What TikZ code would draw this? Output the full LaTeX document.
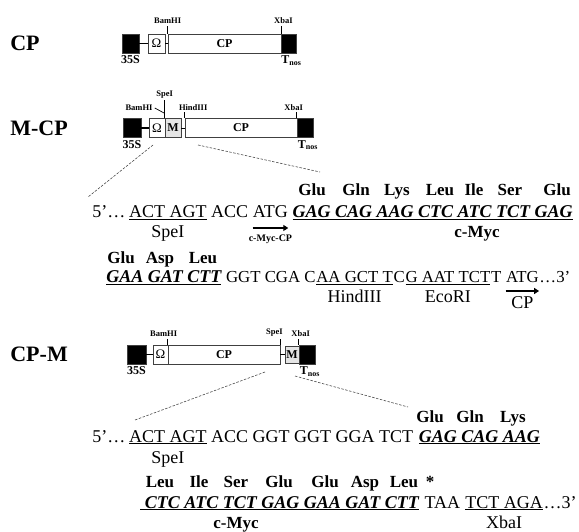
\documentclass[tikz,border=0pt]{standalone}
\usepackage{fontspec}
\setmainfont{Liberation Serif}
\usetikzlibrary{arrows.meta}
\newcommand\seqf{\fontsize{18}{20}\selectfont}
\newcommand\seqn{\fontsize{16.8}{19}\selectfont}
\newcommand\resf{\fontsize{17}{19}\selectfont\bfseries}
\newcommand\tagf{\fontsize{8.5}{10}\selectfont\bfseries}
\newcommand\boxf{\fontsize{12}{14}\selectfont\bfseries}
\newcommand\omf{\fontsize{13}{15}\selectfont}
\newcommand\bigf{\fontsize{22}{24}\selectfont\bfseries}

\begin{document}
\begin{tikzpicture}[x=1pt,y=-1pt,line width=.7pt,
    blk/.style={draw=black!75,fill=black,inner sep=0,minimum height=19},
    elem/.style={draw=black!75,fill=white,inner sep=0,minimum height=19,font=\boxf},
    mel/.style={elem,fill=gray!20},
    cname/.style={anchor=west,inner sep=0,font=\bigf},
    site/.style={font=\tagf,inner sep=0,above=1.5pt},
    under/.style={font=\boxf,inner sep=0,below=2pt},
    seq/.style={anchor=base west,inner sep=0,font=\seqf},
    cod/.style={seq,font=\seqf\bfseries\itshape},
    lab/.style={anchor=base,inner sep=0,font=\seqf},
    res/.style={anchor=base,inner sep=0,font=\resf},
    zoomln/.style={black!70,line width=.6pt,dash pattern=on 2.5pt off 1.5pt},
    arr/.style={line width=1.6pt,-{Triangle[length=5pt,width=6pt]}}]
  \useasboundingbox (0,0) rectangle (579,532);
  % CP
  \begin{scope}[shift={(0,43.5)}]
    \node[cname] (ncp) at (10,0) {CP};
    \node[blk,minimum width=17] (p35a) at (130.5,0) {};
    \node[elem,minimum width=17,font=\omf] (oma) at (156.5,0) {Ω};
    \node[elem,minimum width=113] (cpa) at (224.5,0) {CP};
    \node[blk,minimum width=15] (tna) at (288.5,0) {};
    \draw[line width=1.2pt] (p35a) -- (oma);
    \draw (oma) -- (cpa);
    \draw (cpa.north west) -- ++(0,-8) node[site] (bama) {BamHI};
    \draw (cpa.north east) -- ++(0,-8) node[site,xshift=2] (xbaa) {XbaI};
    \node[under] (s35a) at (p35a.south) {35S};
    \node[under,xshift=3] (tnsa) at (tna.south) {T\textsubscript{nos}};
  \end{scope}
  % M-CP
  \begin{scope}[shift={(0,128)}]
    \node[cname] (nmcp) at (10,0) {M-CP};
    \node[blk,minimum width=18] (p35b) at (132,0) {};
    \node[elem,minimum width=16,font=\omf] (omb) at (157,0) {Ω};
    \node[mel,minimum width=16] (mb) at (173,0) {M};
    \node[elem,minimum width=112] (cpb) at (241,0) {CP};
    \node[blk,minimum width=16] (tnb) at (305,0) {};
    \draw[line width=1.2pt] (p35b) -- (omb);
    \draw (mb) -- (cpb);
    \draw (mb.north west) -- ++(0,-18) node[site] (speb) {SpeI};
    \node[font=\tagf,inner sep=0] (bamb) at (139,-20) {BamHI};
    \draw ([xshift=2]bamb.east) -- (164,-15);
    \draw (cpb.north west) -- ++(0,-6) node[site,anchor=south west,xshift=-6] (hinb) {HindIII};
    \draw (tnb.north west) -- ++(0,-6) node[site,xshift=-3] (xbab) {XbaI};
    \node[under] (s35b) at (p35b.south) {35S};
    \node[under,xshift=3] (tnsb) at (tnb.south) {T\textsubscript{nos}};
    \coordinate (zb1) at (153,17);
    \coordinate (zb2) at (198,17);
  \end{scope}
  \coordinate (zb3) at (88,197);
  \coordinate (zb4) at (320,172);
  \draw[zoomln] (zb1) -- (zb3);
  \draw[zoomln] (zb2) -- (zb4);
  % M-CP sequence
  \foreach \r/\x [count=\i] in {Glu/312,Gln/356,Lys/397,Leu/440,Ile/474,Ser/510,Glu/557}
    \node[res] (ra\i) at (\x,196) {\r};
  \node[seq] (s1a) at (92,218) {5’…};
  \node[seq] (s1b) at ([xshift=3]s1a.base east) {\underline{ACT AGT}};
  \node[seq] (s1c) at ([xshift=4]s1b.base east) {ACC};
  \node[seq] (s1d) at ([xshift=4]s1c.base east) {ATG};
  \node[cod] (s1e) at ([xshift=4]s1d.base east) {\underline{GAG CAG AAG CTC ATC TCT GAG}};
  \node[lab] (spe1) at ([yshift=-20]s1b.base) {SpeI};
  \draw[arr] ([yshift=-10]s1d.base west) -- ([yshift=-10]s1d.base east);
  \node[lab,font=\fontsize{10}{12}\selectfont\bfseries] (mcp1) at ([yshift=-24]s1d.base) {c-Myc-CP};
  \node[lab,font=\resf] (myc1) at (477,237) {c-Myc};
  \foreach \r/\x [count=\i] in {Glu/121,Asp/160,Leu/203}
    \node[res] (rb\i) at (\x,263) {\r};
  \node[cod] (s2a) at (106,283) {\underline{GAA GAT CTT}};
  \node[seq,font=\seqn] (s2b) at ([xshift=4]s2a.base east) {GGT CGA C};
  \node[seq,font=\seqn] (s2c) at (s2b.base east) {\underline{AA GCT T}};
  \node[seq,font=\seqn] (s2d) at (s2c.base east) {C};
  \node[seq,font=\seqn] (s2e) at (s2d.base east) {\underline{G AAT TCT}};
  \node[seq,font=\seqn] (s2f) at (s2e.base east) {T};
  \node[seq,font=\seqn] (s2g) at ([xshift=4]s2f.base east) {ATG};
  \node[seq,font=\seqn] (s2h) at (s2g.base east) {…3’};
  \node[lab] (hin2) at ([yshift=-19]s2c.base) {HindIII};
  \node[lab] (eco2) at ([yshift=-19]s2e.base) {EcoRI};
  \draw[arr] ([yshift=-8]s2g.base west) -- ([yshift=-8]s2g.base east);
  \node[lab] (cp2) at ([yshift=-25]s2g.base) {CP};
  % CP-M
  \begin{scope}[shift={(0,354.5)}]
    \node[cname] (ncpm) at (10,0) {CP-M};
    \node[blk,minimum width=19] (p35c) at (136.5,0) {};
    \node[elem,minimum width=15,font=\omf] (omc) at (160.5,0) {Ω};
    \node[elem,minimum width=112] (cpc) at (224,0) {CP};
    \node[mel,minimum width=14,minimum height=17] (mc) at (292,0) {M};
    \node[blk,minimum width=16] (tnc) at (307,0) {};
    \draw[line width=1.2pt] (p35c) -- (omc);
    \draw (cpc) -- (mc);
    \draw (cpc.north west) -- ++(0,-6) node[site,xshift=-4] (bamc) {BamHI};
    \draw (cpc.north east) -- ++(0,-6) node[site,xshift=-6] (spec) {SpeI};
    \draw (tnc.north west) -- ++(0,-6) node[site,xshift=2] (xbac) {XbaI};
    \node[under] (s35c) at (p35c.south) {35S};
    \node[under,xshift=3] (tnsc) at (tnc.south) {T\textsubscript{nos}};
    \coordinate (zc1) at (265,17.5);
    \coordinate (zc2) at (295,21.5);
  \end{scope}
  \coordinate (zc3) at (135,420);
  \coordinate (zc4) at (408,407);
  \draw[zoomln] (zc1) -- (zc3);
  \draw[zoomln] (zc2) -- (zc4);
  % CP-M sequence
  \foreach \r/\x [count=\i] in {Glu/430,Gln/470,Lys/513}
    \node[res] (rc\i) at (\x,422) {\r};
  \node[seq] (s3a) at (92,442) {5’…};
  \node[seq] (s3b) at ([xshift=3]s3a.base east) {\underline{ACT AGT}};
  \node[seq] (s3c) at ([xshift=4]s3b.base east) {ACC GGT GGT GGA TCT};
  \node[cod] (s3d) at ([xshift=5]s3c.base east) {\underline{GAG CAG AAG}};
  \node[lab] (spe3) at ([yshift=-21]s3b.base) {SpeI};
  \foreach \r/\x [count=\i] in {Leu/160,Ile/199,Ser/236,Glu/279,Glu/325,Asp/365,Leu/404,*/430}
    \node[res] (rd\i) at (\x,487) {\r};
  \node[cod] (s4a) at (140,508) {\underline{\ CTC ATC TCT GAG GAA GAT CTT}};
  \node[seq] (s4b) at ([xshift=5]s4a.base east) {TAA};
  \node[seq] (s4c) at ([xshift=4.5]s4b.base east) {\underline{TCT AGA}};
  \node[seq] (s4d) at (s4c.base east) {…3’};
  \node[lab,font=\resf] (myc4) at (236,528) {c-Myc};
  \node[lab] (xba4) at ([yshift=-20]s4c.base) {XbaI};
\end{tikzpicture}
\end{document}
